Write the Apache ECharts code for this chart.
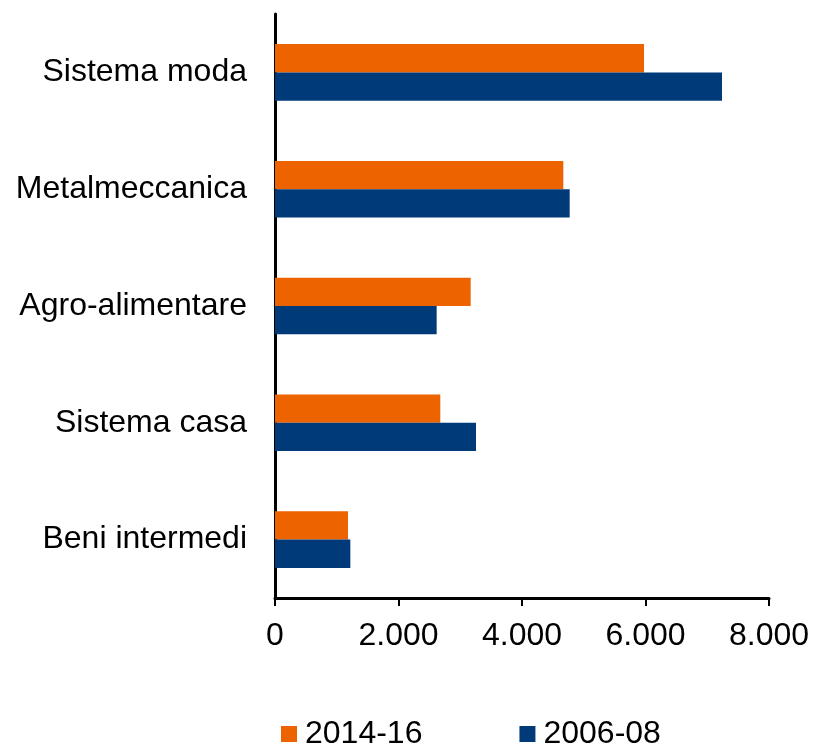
<!DOCTYPE html>
<html>
<head>
<meta charset="utf-8">
<script src="https://cdn.jsdelivr.net/npm/echarts@6/dist/echarts.min.js"></script>
<style>html,body{margin:0;padding:0;background:#fff;}#c{width:814px;height:747px;}</style>
</head>
<body>
<div id="c"></div>
<script>
const categories = ['Sistema moda', 'Metalmeccanica', 'Agro-alimentare', 'Sistema casa', 'Beni intermedi'];
const seriesNames = ['2014-16', '2006-08'];
const values2014_16 = [5976, 4669, 3169, 2677, 1182];
const values2006_08 = [7239, 4772, 2618, 3255, 1220];
const xTicks = [0, 2000, 4000, 6000, 8000];

const colors = ['#EC6300', '#003A78'];
const fontFamily = 'Liberation Sans, Arial, sans-serif';

function fmt(v) {
  return String(v).replace(/\B(?=(\d{3})+(?!\d))/g, '.');
}

const chart = echarts.init(document.getElementById('c'), null, { renderer: 'canvas' });
chart.setOption({
  animation: false,
  backgroundColor: '#ffffff',
  grid: { left: 275, right: 45, top: 14, bottom: 149, containLabel: false },
  legend: {
    left: 281, top: 718, padding: 0,
    itemWidth: 16, itemHeight: 16, itemGap: 97,
    icon: 'rect',
    textStyle: { fontSize: 32, color: '#000', fontFamily: fontFamily, padding: [0, 0, 0, 3] },
    data: seriesNames
  },
  xAxis: {
    type: 'value',
    min: xTicks[0], max: xTicks[xTicks.length - 1], interval: 2000,
    axisLine: { show: true, lineStyle: { color: '#000', width: 3 } },
    axisTick: { show: true, length: 8, lineStyle: { color: '#000', width: 2 } },
    splitLine: { show: false },
    axisLabel: { fontSize: 32, color: '#000', fontFamily: fontFamily, margin: 22, formatter: fmt }
  },
  yAxis: {
    type: 'category',
    inverse: true,
    data: categories,
    axisLine: { show: true, lineStyle: { color: '#000', width: 3 } },
    axisTick: { show: false },
    axisLabel: { fontSize: 32, color: '#000', fontFamily: fontFamily, margin: 28 }
  },
  series: [
    { name: seriesNames[0], type: 'bar', data: values2014_16, itemStyle: { color: colors[0] }, barGap: '0%', barCategoryGap: '51.5%' },
    { name: seriesNames[1], type: 'bar', data: values2006_08, itemStyle: { color: colors[1] }, barGap: '0%', barCategoryGap: '51.5%' }
  ]
});
</script>
</body>
</html>
